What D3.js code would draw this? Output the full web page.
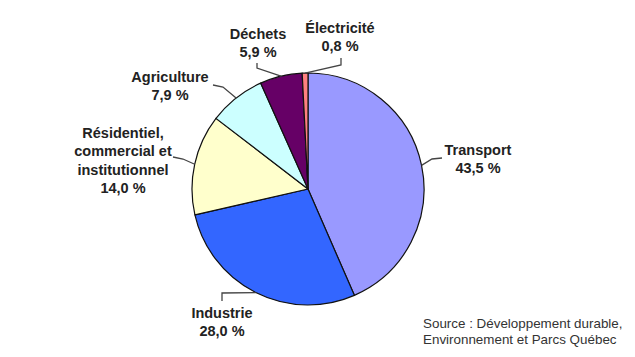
<!DOCTYPE html>
<html><head><meta charset="utf-8">
<script src="https://cdn.jsdelivr.net/npm/d3@7/dist/d3.min.js"></script>
<style>body{margin:0;background:#fff}svg{display:block}</style>
</head><body>
<script>
const categories = ["Transport", "Industrie", "Résidentiel, commercial et institutionnel", "Agriculture", "Déchets", "Électricité"];
const values = [43.5, 28.0, 14.0, 7.9, 5.9, 0.8];
const labelLines = [["Transport"], ["Industrie"], ["Résidentiel,", "commercial et", "institutionnel"], ["Agriculture"], ["Déchets"], ["Électricité"]];
const valueLabels = ["43,5 %", "28,0 %", "14,0 %", "7,9 %", "5,9 %", "0,8 %"];
const colors = ["#9999FF", "#3366FF", "#FFFFCC", "#CCFFFF", "#660066", "#FF8080"];
const sourceLines = ["Source : Développement durable,", "Environnement et Parcs Québec"];

const W = 635, H = 357, cx = 308, cy = 189, R = 116;
// label layout: text centre x, first line y, elbow point, outer end point
const layout = [
  {x: 478, y: 155, elbow: [432, 159], end: [442, 158]},
  {x: 222, y: 318, elbow: [222, 293], end: [222, 301]},
  {x: 123, y: 138, elbow: [183, 159], end: [173, 157]},
  {x: 170, y: 82,  elbow: [223, 87],  end: [213, 85]},
  {x: 258, y: 39,  elbow: [257, 68],  end: [257, 63]},
  {x: 340, y: 33,  elbow: [341, 65],  end: [341, 58]}
];

const svg = d3.select("body").append("svg").attr("width", W).attr("height", H);
const pie = d3.pie().sort(null).value(d => d)(values);
const arc = d3.arc().innerRadius(0).outerRadius(R);
const g = svg.append("g").attr("transform", `translate(${cx},${cy})`);
g.selectAll("path").data(pie).join("path")
  .attr("d", arc).attr("fill", (d, i) => colors[i])
  .attr("stroke", "#111").attr("stroke-width", 1.2).attr("stroke-linejoin", "round");

const edge = d3.arc().innerRadius(R).outerRadius(R);
pie.forEach((d, i) => {
  const c = edge.centroid(d);
  const L = layout[i];
  svg.append("polyline")
    .attr("points", [[cx + c[0], cy + c[1]], L.elbow, L.end].map(p => p.join(",")).join(" "))
    .attr("fill", "none").attr("stroke", "#444").attr("stroke-width", 1.3);
  const lines = labelLines[i].concat([valueLabels[i]]);
  const t = svg.append("text").attr("text-anchor", "middle")
    .attr("font-family", "Liberation Sans, Arial, sans-serif").attr("font-weight", "bold")
    .attr("font-size", 14.5).attr("fill", "#222");
  lines.forEach((s, k) => t.append("tspan").attr("x", L.x).attr("y", L.y + k * 18.3).text(s));
});

const st = svg.append("text").attr("font-family", "Liberation Sans, Arial, sans-serif")
  .attr("font-size", 13.4).attr("fill", "#333");
sourceLines.forEach((s, k) => st.append("tspan").attr("x", 423).attr("y", 328 + k * 15.5).text(s));
</script>
</body></html>
